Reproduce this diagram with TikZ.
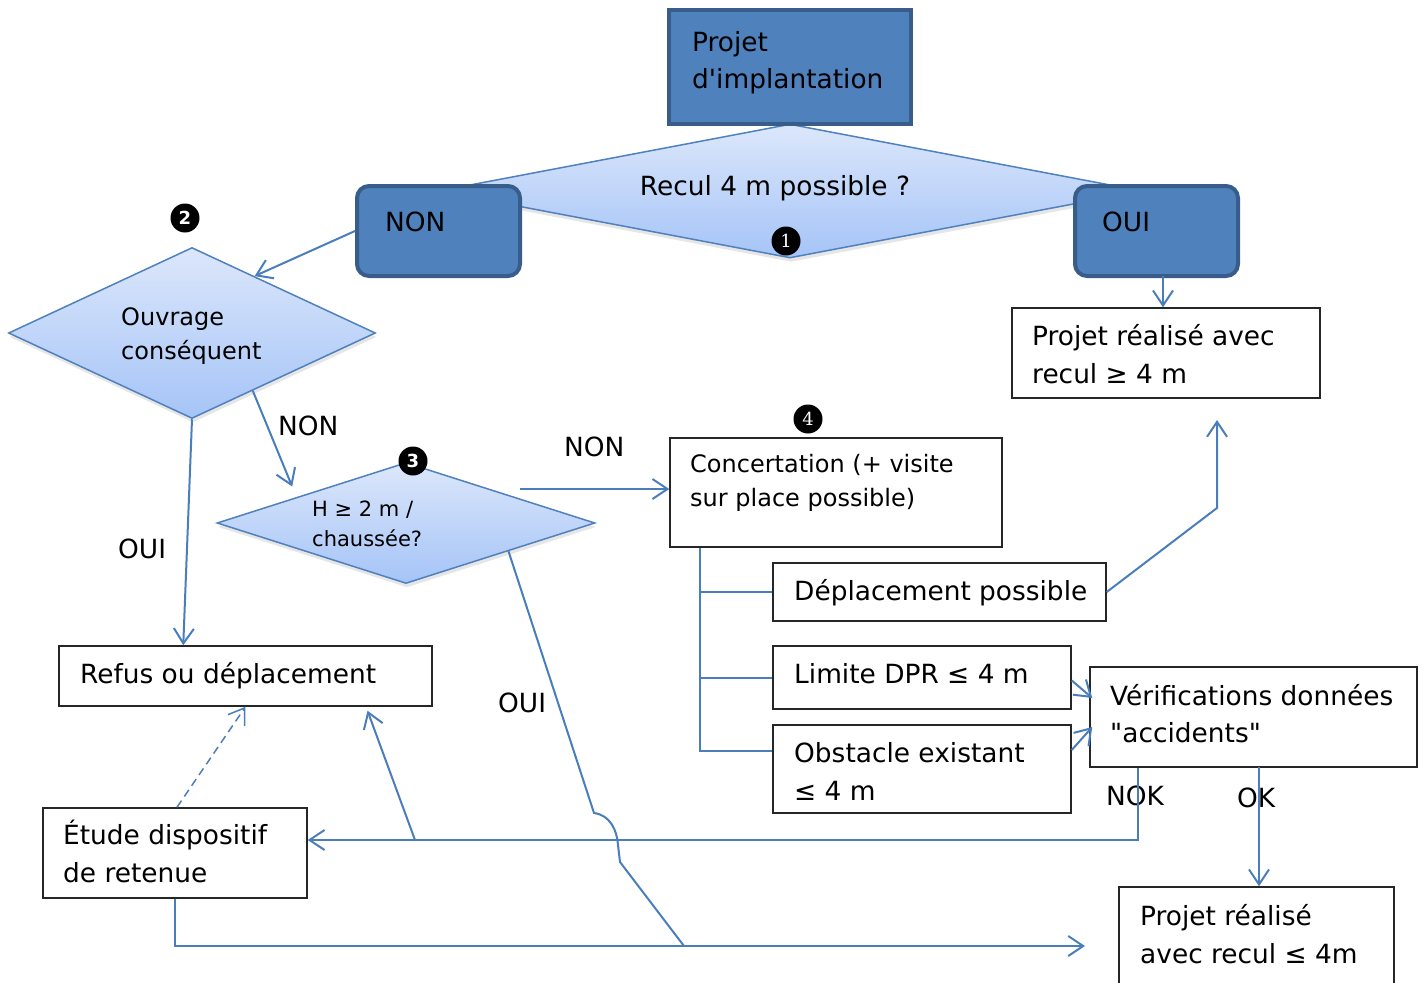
\documentclass[tikz,border=0pt]{standalone}
\usepackage{fontspec}
\setmainfont{DejaVu Sans}[Ligatures=TeXOff]
\newfontfamily\badgeserif{DejaVu Serif}
\usetikzlibrary{arrows.meta,shapes.geometric,calc,shadows}

\definecolor{accent}{HTML}{4F81BD}
\definecolor{accentdark}{HTML}{385D8A}
\definecolor{linkblue}{HTML}{4A7EBB}
\definecolor{diamtop}{HTML}{DCE7FB}
\definecolor{diambot}{HTML}{A5C4F7}
\definecolor{boxline}{HTML}{262626}

% two lines of text, baseline on the first one
\newcommand\twolines[2]{\begin{tabular}[t]{@{}l@{}}#1\\#2\end{tabular}}

\begin{document}
\begin{tikzpicture}[x=1pt,y=-1pt,
  darkbox/.style={draw=accentdark, line width=4pt, fill=accent, inner sep=0pt},
  plainbox/.style={draw=boxline, line width=1.5pt, fill=white, inner sep=0pt},
  decision/.style={diamond, draw=accent, line width=1.5pt, top color=diamtop,
    bottom color=diambot, inner sep=0pt,
    drop shadow={opacity=0.2, shadow xshift=1pt, shadow yshift=-4pt}},
  flow/.style={draw=linkblue, line width=2pt},
  link/.style={flow, -{Straight Barb[length=15pt,width=20pt]}},
  txt/.style={inner sep=0pt, anchor=base west, font=\fontsize{26.4}{38}\selectfont},
  midtxt/.style={txt, font=\fontsize{24}{34}\selectfont},
  smalltxt/.style={txt, font=\fontsize{21}{30}\selectfont},
  badge/.style={circle, fill=black, text=white, minimum size=29pt, inner sep=0pt,
    font=\fontsize{18}{18}\selectfont\bfseries}
]
\useasboundingbox (0,0) rectangle (1428,983);

% ---- first question and its two answers
\node[decision, minimum width=704pt, minimum height=134pt] (q1) at (790,191) {};
\node[txt, anchor=base] (q1t) at (775,195) {Recul 4 m possible ?};
\node[darkbox, minimum width=242pt, minimum height=114pt] (start) at (790,67) {};
\node[txt, font=\fontsize{26.4}{37}\selectfont] (startt) at (692,51) {\twolines{Projet}{d'implantation}};
\node[darkbox, rounded corners=12pt, minimum width=163pt, minimum height=90pt] (no1) at (438.5,231) {};
\node[txt] (no1t) at (385,231) {NON};
\node[darkbox, rounded corners=12pt, minimum width=163pt, minimum height=90pt] (yes1) at (1156.5,231) {};
\node[txt] (yes1t) at (1102,231) {OUI};
\node[badge, font=\fontsize{18}{18}\selectfont\badgeserif] (b1) at (786,241) {1};

% ---- right branch
\node[plainbox, minimum width=308pt, minimum height=90pt] (pr1) at (1166,353) {};
\node[txt] (pr1t) at (1032,345) {\twolines{Projet réalisé avec}{recul ≥ 4 m}};

% ---- second question
\node[decision, minimum width=367pt, minimum height=171pt] (q2) at (192,333) {};
\node[midtxt] (q2t) at (121,325) {\twolines{Ouvrage}{conséquent}};
\node[badge] (b2) at (185,218) {2};

% ---- third question
\node[decision, minimum width=378pt, minimum height=121pt] (q3) at (406,523) {};
\node[smalltxt] (q3t) at (312,516) {\twolines{H ≥ 2 m /}{chaussée?}};
\node[badge] (b3) at (413,461) {3};

% ---- concertation and its outcomes
\node[plainbox, minimum width=332pt, minimum height=109pt] (conc) at (836,492.5) {};
\node[midtxt] (conct) at (690,472) {\twolines{Concertation (+ visite}{sur place possible)}};
\node[badge, font=\fontsize{18}{18}\selectfont\badgeserif] (b4) at (808,419) {4};

\node[plainbox, minimum width=333pt, minimum height=58pt] (depl) at (939.5,592) {};
\node[txt] (deplt) at (794,600) {Déplacement possible};
\node[plainbox, minimum width=298pt, minimum height=63pt] (limite) at (922,677.5) {};
\node[txt] (limitet) at (794,683) {Limite DPR ≤ 4 m};
\node[plainbox, minimum width=298pt, minimum height=88pt] (obst) at (922,769) {};
\node[txt] (obstt) at (794,762) {\twolines{Obstacle existant}{≤ 4 m}};
\node[plainbox, minimum width=327pt, minimum height=100pt] (verif) at (1253.5,717) {};
\node[txt, font=\fontsize{26.4}{37}\selectfont] (verift) at (1110,705) {\twolines{Vérifications données}{"accidents"}};

% ---- lower boxes
\node[plainbox, minimum width=373pt, minimum height=60pt] (refus) at (245.5,676) {};
\node[txt] (refust) at (80,683) {Refus ou déplacement};
\node[plainbox, minimum width=264pt, minimum height=90pt] (etude) at (175,853) {};
\node[txt] (etudet) at (63,844) {\twolines{Étude dispositif}{de retenue}};
\node[plainbox, minimum width=275pt, minimum height=108pt] (pr2) at (1256.5,941) {};
\node[txt] (pr2t) at (1140,925) {\twolines{Projet réalisé}{avec recul ≤ 4m}};

% ---- connector labels
\node[txt] (lnon1) at (278,435) {NON};
\node[txt] (loui1) at (118,558) {OUI};
\node[txt] (lnon2) at (564,456) {NON};
\node[txt] (loui2) at (498,712) {OUI};
\node[txt] (lnok) at (1106,805) {NOK};
\node[txt] (lok) at (1237,807) {OK};

% ---- helper points
\coordinate (yesfoot) at (1163,276);
\coordinate (q3out) at (520,489);
\coordinate (trunk) at (700,548);
\coordinate (trunkend) at (700,751);
\coordinate (bend1) at (1217,508);
\coordinate (tip1) at (1217,420);
\coordinate (nokturn) at (1138,840);
\coordinate (okx) at (1259,767);
\coordinate (upfoot) at (415,840);
\coordinate (hop1) at (594,813);
\coordinate (hop2) at (620,862);
\coordinate (merge) at (684,946);
\coordinate (bottomend) at (1085,946);

% ---- connectors
\draw[link] (yesfoot) -- (yesfoot |- pr1.north);
\draw[link] (no1.west) -- ($(q2.north)!0.34!(q2.east)$);
\draw[link] ($(q2.east)!0.67!(q2.south)$) -- ($(q3.west)!0.4!(q3.north)+(0,-12)$);
\draw[link] (q2.south) -- ($(refus.north west)+(125,0)$);
\draw[link] (q3out) -- (q3out -| conc.west);

\draw[flow] (trunk) -- (trunkend) -- (trunkend -| obst.west);
\draw[flow] (trunk |- depl.west) -- (depl.west);
\draw[flow] (trunk |- limite.west) -- (limite.west);

\draw[link] (depl.east) -- (bend1) -- (tip1);
\draw[link] ($(limite.east)+(0,3)$) -- ($(verif.west)+(3,-19)$);
\draw[link] ($(obst.east)+(0,-19)$) -- ($(verif.west)+(3,10)$);

\draw[link] (verif.south -| nokturn) -- (nokturn) -- (nokturn -| etude.east);
\draw[link] (okx) -- (okx |- pr2.north);
\draw[link] (upfoot) -- ($(refus.south)+(122,4)$);
\draw[link, dashed, dash pattern=on 8pt off 5pt, line width=1.5pt] ($(etude.north)+(2,0)$) -- (refus.south);

\draw[flow] ($(q3.east)!0.46!(q3.south)$) -- (hop1)
  .. controls (610,815) and (617,830) .. (618,845) -- (hop2) -- (merge);
\draw[link] (etude.south) -- (etude.south |- bottomend) -- (bottomend);
\end{tikzpicture}
\end{document}
